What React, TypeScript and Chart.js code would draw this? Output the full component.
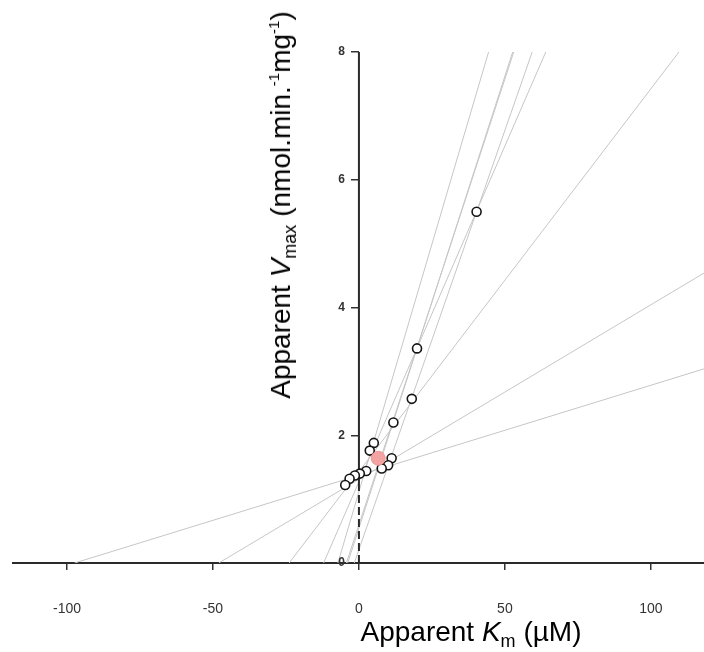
import React, { useEffect, useRef } from "react";
import { Chart, registerables } from "chart.js";

Chart.register(...registerables);

// Observations: substrate concentration (µM) and initial rate for each line
const substrate = [97.4, 48, 23.9, 12.1, 7.2, 4.3, 3.85, 1.6];
const rates = [1.373, 1.311, 1.432, 1.272, 1.116, 0.6, 0.545, 0.21];

// Pairwise intersection estimates of (Km, Vmax)
const estKm = [40.3, 19.9, 18.1, 11.8, 5.1, 3.7, 11.2, 10.0, 7.8, 2.5, 0.3, -1.4, -3.2, -4.7];
const estV = [5.5, 3.36, 2.57, 2.2, 1.88, 1.76, 1.64, 1.53, 1.48, 1.44, 1.4, 1.37, 1.32, 1.22];

// Median estimate
const medianKm = [6.6];
const medianV = [1.64];

const xTicks = [-100, -50, 0, 50, 100];
const yTicks = [0, 2, 4, 6, 8];
const xMin = -118.5;
const xMax = 118.2;
const yMin = 0;
const yMax = 8;
const axisDashTop = 1.22;

const FONT = 'Arial, "Liberation Sans", Helvetica, sans-serif';
const Y_TICK_LEN = 8;
const Y_TICK_PAD = 6;

// Y tick labels sit to the left of the axis drawn at Km = 0
const yLabelPlugin = {
  id: "yAxisLabels",
  afterDraw(chart: any) {
    const { ctx, scales } = chart;
    const x0 = scales.x.getPixelForValue(0);
    ctx.save();
    ctx.font = `bold 12px ${FONT}`;
    ctx.fillStyle = "#333333";
    ctx.textAlign = "right";
    ctx.textBaseline = "middle";
    yTicks.forEach((v) => {
      ctx.fillText(String(v), x0 - Y_TICK_LEN - Y_TICK_PAD, scales.y.getPixelForValue(v));
    });
    ctx.restore();
  },
};

export default function App() {
  const canvasRef = useRef<HTMLCanvasElement | null>(null);

  useEffect(() => {
    if (!canvasRef.current) return;

    const lineSets = substrate.map((s, i) => {
      const v = rates[i];
      return {
        type: "line" as const,
        data: [
          { x: -s, y: 0 },
          { x: xMax, y: v * (1 + xMax / s) },
        ],
        borderColor: "#c6c6c6",
        borderWidth: 1,
        pointRadius: 0,
        showLine: true,
        order: 5,
      };
    });

    const chart = new Chart(canvasRef.current, {
      type: "scatter",
      data: {
        datasets: [
          {
            data: medianKm.map((x, i) => ({ x, y: medianV[i] })),
            pointRadius: 7,
            backgroundColor: "#f3a3a2",
            borderColor: "#ee9896",
            borderWidth: 1,
            order: 0,
          },
          {
            data: estKm.map((x, i) => ({ x, y: estV[i] })),
            pointRadius: 4.5,
            backgroundColor: "#ffffff",
            borderColor: "#151515",
            borderWidth: 1.6,
            order: 1,
          },
          {
            type: "line",
            data: [
              { x: 0, y: axisDashTop },
              { x: 0, y: yMax },
            ],
            borderColor: "#2a2a2a",
            borderWidth: 2,
            pointRadius: 0,
            showLine: true,
            order: 3,
          },
          {
            type: "line",
            data: [
              { x: 0, y: 0 },
              { x: 0, y: axisDashTop },
            ],
            borderColor: "#2a2a2a",
            borderWidth: 2,
            borderDash: [8, 4],
            pointRadius: 0,
            showLine: true,
            order: 3,
          },
          ...lineSets,
        ] as any,
      },
      options: {
        responsive: false,
        animation: false,
        layout: { autoPadding: false, padding: { left: 13, right: 0, top: 52, bottom: 89 } },
        plugins: {
          legend: { display: false },
          tooltip: { enabled: false },
        },
        scales: {
          x: {
            type: "linear",
            position: { y: 0 } as any,
            min: xMin,
            max: xMax,
            afterBuildTicks: (scale: any) => {
              scale.ticks = xTicks.map((value) => ({ value }));
            },
            grid: {
              display: true,
              drawOnChartArea: false,
              drawTicks: true,
              tickLength: 6,
              color: "#333333",
              lineWidth: 1.5,
            },
            border: { display: true, color: "#2a2a2a", width: 2 },
            ticks: {
              padding: 32,
              color: "#333333",
              autoSkip: false,
              maxRotation: 0,
              font: { family: FONT, size: 14 },
            },
          },
          y: {
            type: "linear",
            position: { x: 0 } as any,
            min: yMin,
            max: yMax,
            afterBuildTicks: (scale: any) => {
              scale.ticks = yTicks.map((value) => ({ value }));
            },
            grid: {
              display: true,
              drawOnChartArea: false,
              drawTicks: true,
              tickLength: Y_TICK_LEN,
              color: "#333333",
              lineWidth: 1.5,
            },
            border: { display: false },
            ticks: { display: false },
          },
        },
      } as any,
      plugins: [yLabelPlugin],
    });

    return () => chart.destroy();
  }, []);

  return (
    <div
      style={{
        position: "absolute",
        left: 0,
        top: 0,
        width: 704,
        height: 652,
        background: "#ffffff",
        overflow: "hidden",
        fontFamily: FONT,
        color: "#000000",
      }}
    >
      <canvas ref={canvasRef} width={704} height={652} style={{ display: "block" }} />
      <div
        style={{
          position: "absolute",
          left: 471,
          top: 632,
          transform: "translate(-50%, -50%)",
          whiteSpace: "nowrap",
          fontSize: 28,
          lineHeight: 1,
        }}
      >
        Apparent <i>K</i>
        <span style={{ fontSize: 18, position: "relative", top: 6 }}>m</span> (µM)
      </div>
      <div
        style={{
          position: "absolute",
          left: 281,
          top: 205,
          transform: "translate(-50%, -50%) rotate(-90deg)",
          whiteSpace: "nowrap",
          fontSize: 28,
          lineHeight: 1,
        }}
      >
        Apparent <i>V</i>
        <span style={{ fontSize: 18, position: "relative", top: 6 }}>max</span> (nmol.min.
        <span style={{ fontSize: 15, position: "relative", top: -11 }}>-1</span>mg
        <span style={{ fontSize: 15, position: "relative", top: -11 }}>-1</span>)
      </div>
    </div>
  );
}
